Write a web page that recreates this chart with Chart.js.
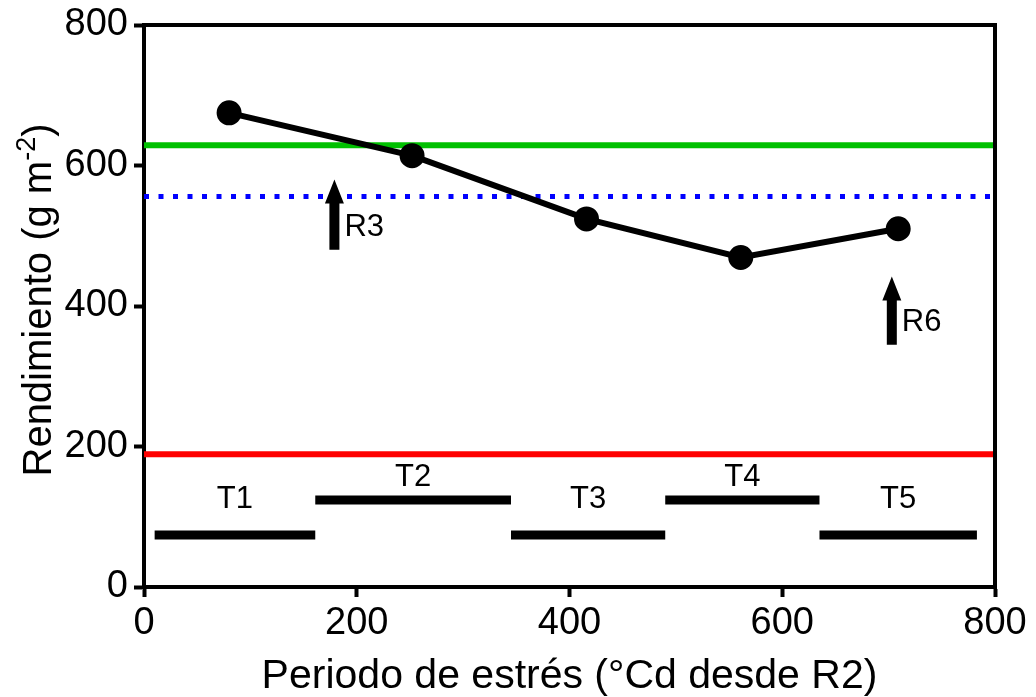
<!DOCTYPE html>
<html>
<head>
<meta charset="utf-8">
<script src="https://cdn.jsdelivr.net/npm/chart.js@4/dist/chart.umd.min.js"></script>
<style>
    html, body { margin: 0; padding: 0; background: #fff; }
    #wrap { width: 1036px; height: 697px; }
</style>
</head>
<body>
<div id="wrap"><canvas id="chart" width="1036" height="697"></canvas></div>
<script>
const FONT = '"Liberation Sans", Arial, sans-serif';

// yield vs. stress period
const periodX = [80, 252, 416, 561, 709];
const yieldValues = [675, 614, 524, 469, 510];

// horizontal reference levels
const upperRef = 629;   // green
const dottedRef = 556;  // blue dotted
const lowerRef = 189;   // red

// stress windows T1..T5
const stressLabels = ['T1', 'T2', 'T3', 'T4', 'T5'];
const stressStart = [10, 161, 345, 490, 635];
const stressEnd = [161, 345, 490, 635, 783];
const stressLevel = [74, 124, 74, 124, 74];
const stressLabelY = [125, 156, 125, 156, 125];

// phenological stage arrows
const stageLabels = ['R3', 'R6'];
const stageX = [179, 703];
const stageFrom = [480, 345];
const stageTo = [580, 442];

const xTicks = [0, 200, 400, 600, 800];
const yTicks = [0, 200, 400, 600, 800];

const refLine = (value, color, dash) => ({
    data: [{ x: 0, y: value }, { x: 800, y: value }],
    showLine: true,
    borderColor: color,
    borderWidth: dash ? 5 : 6,
    borderDash: dash || [],
    borderCapStyle: 'butt',
    pointRadius: 0,
});

const datasets = [
    {
        data: periodX.map((x, i) => ({ x, y: yieldValues[i] })),
        showLine: true,
        borderColor: '#000',
        backgroundColor: '#000',
        borderWidth: 6,
        pointRadius: 9.5,
        pointHoverRadius: 9.5,
    },
    ...stressLabels.map((_, i) => ({
        data: [{ x: stressStart[i], y: stressLevel[i] }, { x: stressEnd[i], y: stressLevel[i] }],
        showLine: true,
        borderColor: '#000',
        borderWidth: 9,
        borderCapStyle: 'butt',
        pointRadius: 0,
    })),
    refLine(upperRef, '#00c000'),
    refLine(dottedRef, '#0000ff', [5, 9.5]),
    refLine(lowerRef, '#ff0000'),
];

const decorations = {
    id: 'decorations',
    afterDatasetsDraw(chart) {
        const { ctx, chartArea: a, scales: { x, y } } = chart;
        ctx.save();

        // frame top and right
        ctx.strokeStyle = '#000';
        ctx.lineWidth = 4;
        ctx.beginPath();
        ctx.moveTo(a.left - 2, a.top);
        ctx.lineTo(a.right, a.top);
        ctx.lineTo(a.right, a.bottom + 2);
        ctx.stroke();

        ctx.fillStyle = '#000';

        // T labels
        ctx.font = `31px ${FONT}`;
        ctx.textAlign = 'center';
        ctx.textBaseline = 'middle';
        stressLabels.forEach((label, i) => {
            const cx = x.getPixelForValue((stressStart[i] + stressEnd[i]) / 2);
            ctx.fillText(label, cx, y.getPixelForValue(stressLabelY[i]));
        });

        // stage arrows
        stageLabels.forEach((label, i) => {
            const px = x.getPixelForValue(stageX[i]);
            const base = y.getPixelForValue(stageFrom[i]);
            const tip = y.getPixelForValue(stageTo[i]);
            const headH = 24;
            ctx.beginPath();
            ctx.moveTo(px - 5, base);
            ctx.lineTo(px - 5, tip + headH);
            ctx.lineTo(px - 9.5, tip + headH);
            ctx.lineTo(px, tip);
            ctx.lineTo(px + 9.5, tip + headH);
            ctx.lineTo(px + 5, tip + headH);
            ctx.lineTo(px + 5, base);
            ctx.closePath();
            ctx.fill();
            ctx.textAlign = 'left';
            ctx.fillText(label, px + 10, base - 22);
        });

        // axis titles
        ctx.font = `41px ${FONT}`;
        ctx.textAlign = 'center';
        ctx.textBaseline = 'alphabetic';
        ctx.fillText('Periodo de estrés (°Cd desde R2)', (a.left + a.right) / 2, 688);

        const main = 'Rendimiento (g m';
        const sup = '-2';
        const close = ')';
        ctx.font = `40px ${FONT}`;
        const wMain = ctx.measureText(main).width;
        const wClose = ctx.measureText(close).width;
        ctx.font = `27px ${FONT}`;
        const wSup = ctx.measureText(sup).width;
        const total = wMain + wSup + wClose;
        ctx.translate(51, 300);
        ctx.rotate(-Math.PI / 2);
        ctx.textAlign = 'left';
        let cx = -total / 2;
        ctx.font = `40px ${FONT}`;
        ctx.fillText(main, cx, 0);
        cx += wMain;
        ctx.font = `27px ${FONT}`;
        ctx.fillText(sup, cx, -16);
        cx += wSup;
        ctx.font = `40px ${FONT}`;
        ctx.fillText(close, cx, 0);

        ctx.restore();
    },
};

new Chart(document.getElementById('chart'), {
    type: 'scatter',
    data: { datasets },
    plugins: [decorations],
    options: {
        responsive: false,
        animation: false,
        layout: { padding: { top: 25, right: 41, left: 0, bottom: 0 } },
        plugins: { legend: { display: false }, tooltip: { enabled: false } },
        scales: {
            x: {
                type: 'linear',
                min: 0,
                max: 800,
                afterFit: (scale) => { scale.height = 110; },
                afterBuildTicks: (scale) => { scale.ticks = xTicks.map((value) => ({ value })); },
                border: { display: true, color: '#000', width: 4 },
                grid: { drawOnChartArea: false, drawTicks: true, tickLength: 10, tickWidth: 4, tickColor: '#000' },
                ticks: { color: '#000', font: { family: FONT, size: 38 }, padding: 4, maxRotation: 0 },
            },
            y: {
                type: 'linear',
                min: 0,
                max: 800,
                afterFit: (scale) => { scale.width = 144; },
                afterBuildTicks: (scale) => { scale.ticks = yTicks.map((value) => ({ value })); },
                border: { display: true, color: '#000', width: 4 },
                grid: { drawOnChartArea: false, drawTicks: true, tickLength: 10, tickWidth: 4, tickColor: '#000' },
                ticks: { color: '#000', font: { family: FONT, size: 38, lineHeight: 1 }, padding: 6 },
            },
        },
    },
});
</script>
</body>
</html>
